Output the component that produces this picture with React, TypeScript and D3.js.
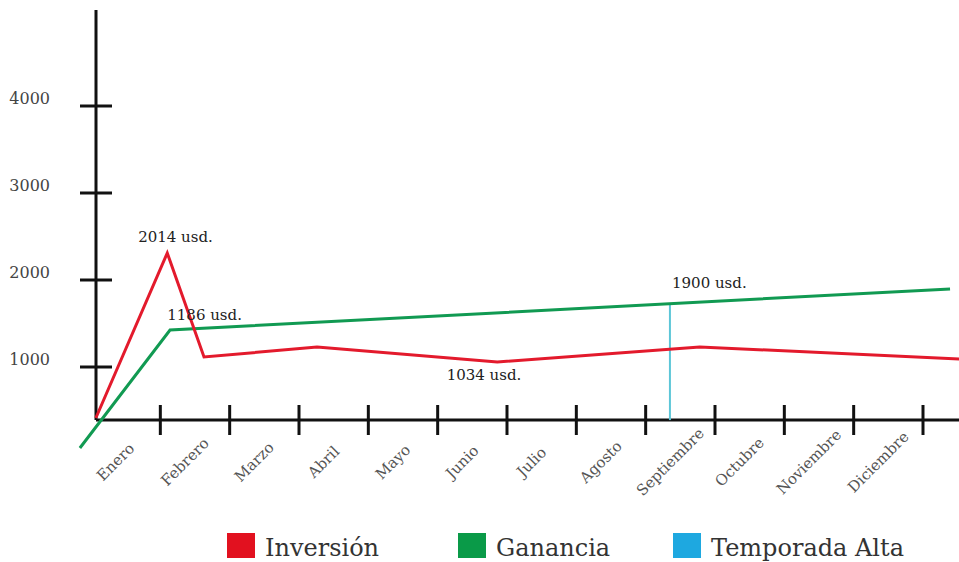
import React, { useEffect, useRef } from 'react';
import * as d3 from 'd3';

// months along the bottom, ticks sit between them
const months = ['Enero', 'Febrero', 'Marzo', 'Abril', 'Mayo', 'Junio', 'Julio', 'Agosto', 'Septiembre', 'Octubre', 'Noviembre', 'Diciembre'];
const yTicks = [1000, 2000, 3000, 4000];

// hand drawn lines: position in months (0 = start of Enero), value in usd
const inversionPos = [0.07, 1.1, 1.63, 3.26, 5.86, 8.78, 12.52];
const inversionVal = [414, 2310, 1115, 1230, 1057, 1230, 1092];
const gananciaPos = [-0.16, 1.14, 12.39];
const gananciaVal = [69, 1425, 1897];
const temporadaPos = [8.35, 8.35];
const temporadaVal = [390, 1728];

const notes = ['2014 usd.', '1186 usd.', '1034 usd.', '1900 usd.'];
const notePos = [0.68, 1.1, 5.13, 8.38];
const noteVal = [2437, 1540, 850, 1908];

const legendNames = ['Inversión', 'Ganancia', 'Temporada Alta'];
const legendColors = ['#e2111f', '#0a9a48', '#1ea8e0'];

const App = () => {
  const chartRef = useRef<SVGSVGElement>(null);

  useEffect(() => {
    const svg = d3.select(chartRef.current);
    svg.selectAll('*').remove();

    const width = 959;
    const height = 562;
    const axisX = 96;
    const axisY = 420;
    const font = '"DejaVu Serif", serif';

    const x = d3.scaleLinear().domain([0, 12]).range([91, 923]);
    const y = d3.scaleLinear().domain([0, 4000]).range([454, 106]);

    svg.attr('width', width).attr('height', height).style('font-family', font);
    svg.append('rect').attr('width', width).attr('height', height).attr('fill', '#fff');

    // y axis
    svg.append('line')
      .attr('x1', axisX).attr('x2', axisX).attr('y1', 10).attr('y2', axisY)
      .attr('stroke', '#111').attr('stroke-width', 3);
    const yt = svg.append('g');
    yt.selectAll('line').data(yTicks).join('line')
      .attr('x1', axisX - 16).attr('x2', axisX + 16)
      .attr('y1', d => y(d)).attr('y2', d => y(d))
      .attr('stroke', '#111').attr('stroke-width', 3);
    yt.selectAll('text').data(yTicks).join('text')
      .attr('x', 50).attr('y', d => y(d) - 2)
      .attr('text-anchor', 'end')
      .style('font-size', '16px').attr('fill', '#444')
      .text(d => d);

    // x axis
    svg.append('line')
      .attr('x1', axisX).attr('x2', width).attr('y1', axisY).attr('y2', axisY)
      .attr('stroke', '#111').attr('stroke-width', 3);
    const xt = svg.append('g');
    xt.selectAll('line').data(months).join('line')
      .attr('x1', (d, i) => x(i + 1)).attr('x2', (d, i) => x(i + 1))
      .attr('y1', axisY - 15).attr('y2', axisY + 15)
      .attr('stroke', '#111').attr('stroke-width', 3);
    xt.selectAll('text').data(months).join('text')
      .attr('transform', (d, i) => `translate(${x(i + 0.5) - 10},${axisY + 42}) rotate(-45)`)
      .attr('text-anchor', 'middle')
      .attr('dominant-baseline', 'central')
      .style('font-size', '15px').attr('fill', '#555')
      .text(d => d);

    const drawLine = (pos: number[], val: number[], color: string, w: number) => {
      const pts = pos.map((p, i) => [x(p), y(val[i])] as [number, number]);
      svg.append('path')
        .attr('d', d3.line()(pts))
        .attr('fill', 'none')
        .attr('stroke', color)
        .attr('stroke-width', w);
    };

    drawLine(temporadaPos, temporadaVal, '#5cc6d8', 2);
    drawLine(gananciaPos, gananciaVal, '#119a52', 3);
    drawLine(inversionPos, inversionVal, '#e31a2c', 3);

    svg.append('g').selectAll('text').data(notes).join('text')
      .attr('x', (d, i) => x(notePos[i]))
      .attr('y', (d, i) => y(noteVal[i]))
      .style('font-size', '15px').attr('fill', '#222')
      .text(d => d);

    // legend
    const legendX = [227, 458, 673];
    const lg = svg.append('g').selectAll('g').data(legendNames).join('g')
      .attr('transform', (d, i) => `translate(${legendX[i]},533)`);
    lg.append('rect')
      .attr('width', 28).attr('height', 25)
      .attr('fill', (d, i) => legendColors[i]);
    lg.append('text')
      .attr('x', 38).attr('y', 23)
      .style('font-size', '24px').attr('fill', '#333')
      .text(d => d);
  }, []);

  return (
    <div style={{ position: 'absolute', left: 0, top: 0 }}>
      <svg ref={chartRef} width="959" height="562"></svg>
    </div>
  );
};

export default App;
